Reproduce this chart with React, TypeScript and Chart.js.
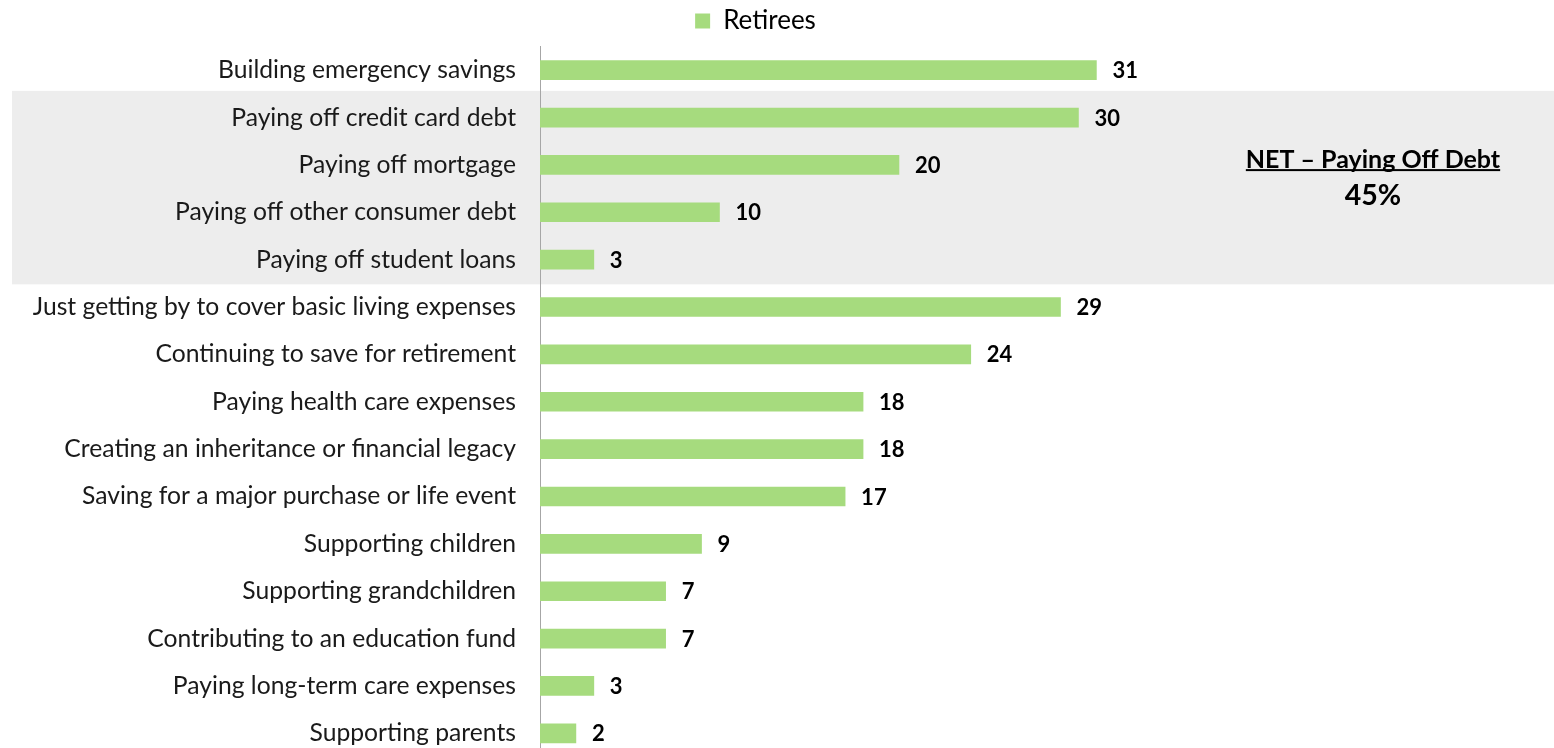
import React, { useEffect, useRef } from "react";
import { Chart, registerables } from "chart.js";

Chart.register(...registerables);

const categories: string[] = [
  "Building emergency savings",
  "Paying off credit card debt",
  "Paying off mortgage",
  "Paying off other consumer debt",
  "Paying off student loans",
  "Just getting by to cover basic living expenses",
  "Continuing to save for retirement",
  "Paying health care expenses",
  "Creating an inheritance or financial legacy",
  "Saving for a major purchase or life event",
  "Supporting children",
  "Supporting grandchildren",
  "Contributing to an education fund",
  "Paying long-term care expenses",
  "Supporting parents",
];

const retirees: number[] = [31, 30, 20, 10, 3, 29, 24, 18, 18, 17, 9, 7, 7, 3, 2];

const seriesName = "Retirees";
const netTitle = "NET – Paying Off Debt";
const netValue = "45%";
const debtRange: [number, number] = [1, 4];

const FONT = "Lato, 'Open Sans', sans-serif";
const GREEN = "#A6DB7E";
const W = 1554;
const H = 757;

export default function App() {
  const ref = useRef<HTMLCanvasElement | null>(null);

  useEffect(() => {
    if (!ref.current) return;

    const bandPlugin = {
      id: "band",
      beforeDraw(chart: any) {
        const { ctx, scales } = chart;
        const y = scales.y;
        const step = y.getPixelForValue(1) - y.getPixelForValue(0);
        const top = y.getPixelForValue(debtRange[0]) - step / 2 - 3;
        const bottom = y.getPixelForValue(debtRange[1]) + step / 2 + 1;
        ctx.save();
        ctx.fillStyle = "#EDEDED";
        ctx.fillRect(12, top, chart.width - 12, bottom - top);
        ctx.restore();
      },
      afterDraw(chart: any) {
        const { ctx, scales } = chart;
        const y = scales.y;
        const mid = (y.getPixelForValue(debtRange[0]) + y.getPixelForValue(debtRange[1])) / 2;
        const cx = 1373;
        ctx.save();
        ctx.fillStyle = "#000";
        ctx.textAlign = "center";
        ctx.textBaseline = "middle";
        ctx.font = `bold 25px ${FONT}`;
        const ty = mid - 28.5;
        ctx.fillText(netTitle, cx, ty);
        const w = ctx.measureText(netTitle).width;
        ctx.fillRect(cx - w / 2, ty + 9, w, 2);
        ctx.font = `bold 28.5px ${FONT}`;
        ctx.fillText(netValue, cx, mid + 7.5);
        ctx.restore();
      },
    };

    const valuePlugin = {
      id: "values",
      afterDatasetsDraw(chart: any) {
        const { ctx } = chart;
        const meta = chart.getDatasetMeta(0);
        ctx.save();
        ctx.fillStyle = "#000";
        ctx.font = `bold 22px ${FONT}`;
        ctx.textAlign = "left";
        ctx.textBaseline = "middle";
        meta.data.forEach((bar: any, i: number) => {
          ctx.fillText(String(retirees[i]), bar.x + 16, bar.y + 1);
        });
        ctx.restore();
      },
    };

    const chart = new Chart(ref.current, {
      type: "bar",
      data: {
        labels: categories,
        datasets: [
          {
            label: seriesName,
            data: retirees,
            backgroundColor: GREEN,
            borderWidth: 0,
            barThickness: 19,
          },
        ],
      },
      options: {
        indexAxis: "y",
        animation: false,
        responsive: false,
        maintainAspectRatio: false,
        devicePixelRatio: 1,
        layout: { padding: { top: 0, right: 43, bottom: 0, left: 0 } },
        plugins: {
          legend: {
            display: true,
            position: "top",
            align: "center",
            labels: {
              boxWidth: 15,
              boxHeight: 15,
              padding: 8,
              color: "#000",
              font: { family: FONT, size: 26 },
            },
          },
          tooltip: { enabled: false },
        },
        scales: {
          x: {
            display: false,
            min: 0,
            max: 54.1,
          },
          x2: {
            type: "linear",
            position: "top",
            display: true,
            grid: { display: false, drawTicks: false },
            border: { display: false },
            ticks: { display: false },
            afterFit(scale: any) {
              scale.height = 2.5;
            },
          },
          y: {
            grid: { display: false, drawTicks: false },
            border: { display: true, color: "#A6A6A6", width: 1 },
            afterFit(scale: any) {
              scale.width = 540;
              scale.paddingTop = 0;
              scale.paddingBottom = 0;
            },
            ticks: {
              padding: 24,
              color: "#1a1a1a",
              autoSkip: false,
              font: { family: FONT, size: 24.7 },
            },
          },
        },
      },
      plugins: [bandPlugin, valuePlugin],
    });

    return () => chart.destroy();
  }, []);

  return (
    <div style={{ position: "fixed", left: 0, top: 0, width: W, height: 748, overflow: "hidden", background: "#fff" }}>
      <canvas ref={ref} width={W} height={H} style={{ display: "block", width: W, height: H }} />
    </div>
  );
}
